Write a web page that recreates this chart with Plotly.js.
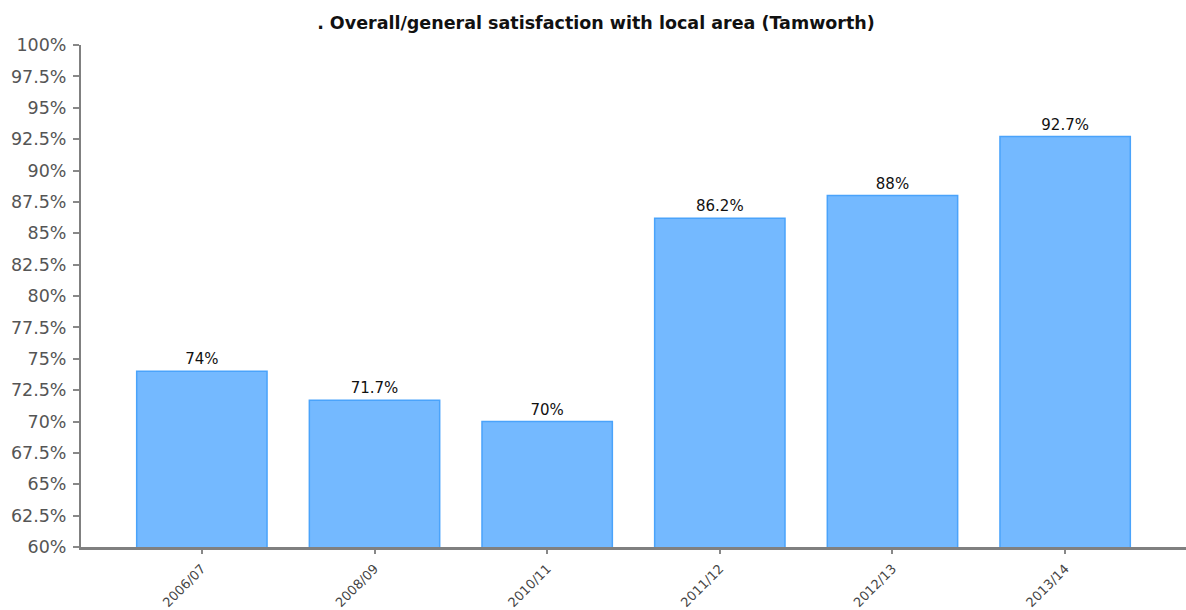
<!DOCTYPE html>
<html>
<head>
<meta charset="utf-8">
<script src="https://cdn.plot.ly/plotly-3.0.1.min.js"></script>
<style>
html,body{margin:0;padding:0;background:#fff;}
#chart{width:1186px;height:610px;}
</style>
</head>
<body>
<div id="chart"></div>
<script>
const categories = ["2006/07", "2008/09", "2010/11", "2011/12", "2012/13", "2013/14"];
const satisfaction = [74, 71.7, 70, 86.2, 88, 92.7];
const chartTitle = ". Overall/general satisfaction with local area (Tamworth)";

const trace = {
  type: "bar",
  x: categories.map((c, i) => i),
  y: satisfaction,
  width: 0.755,
  marker: {color: "#74b9ff", line: {color: "#4aa3fb", width: 1.5}},
  text: satisfaction.map(v => v + "%"),
  textposition: "outside",
  cliponaxis: false,
  textfont: {family: "DejaVu Sans", size: 15, color: "#111"},
  hoverinfo: "skip"
};

const layout = {
  width: 1186, height: 610,
  margin: {l: 81, r: 0, t: 45, b: 63, autoexpand: false},
  paper_bgcolor: "#fff", plot_bgcolor: "#fff",
  showlegend: false,
  title: {text: "<b>" + chartTitle + "</b>", x: 0.5025, xanchor: "center", y: 0.963, yanchor: "middle",
          font: {family: "DejaVu Sans", size: 17.5, color: "#111"}},
  xaxis: {
    type: "linear",
    range: [-0.7, 5.7],
    tickvals: categories.map((c, i) => i),
    ticktext: categories,
    tickangle: -45,
    ticks: "outside", ticklen: 4, tickwidth: 2, tickcolor: "#888",
    ticklabelstandoff: 2,
    showgrid: false, zeroline: false,
    showline: true, linecolor: "#808080", linewidth: 3,
    tickfont: {family: "DejaVu Sans", size: 13, color: "#444"},
    automargin: false,
    fixedrange: true
  },
  yaxis: {
    range: [60, 100],
    dtick: 2.5, tick0: 60,
    ticksuffix: "%",
    ticks: "outside", ticklen: 6, tickwidth: 2, tickcolor: "#888",
    ticklabelstandoff: 3,
    showgrid: false, zeroline: false,
    showline: true, linecolor: "#808080", linewidth: 2,
    tickfont: {family: "DejaVu Sans", size: 17.5, color: "#555"},
    automargin: false,
    fixedrange: true
  },
  bargap: 0.245
};

Plotly.newPlot("chart", [trace], layout, {displayModeBar: false, staticPlot: true});
</script>
</body>
</html>
